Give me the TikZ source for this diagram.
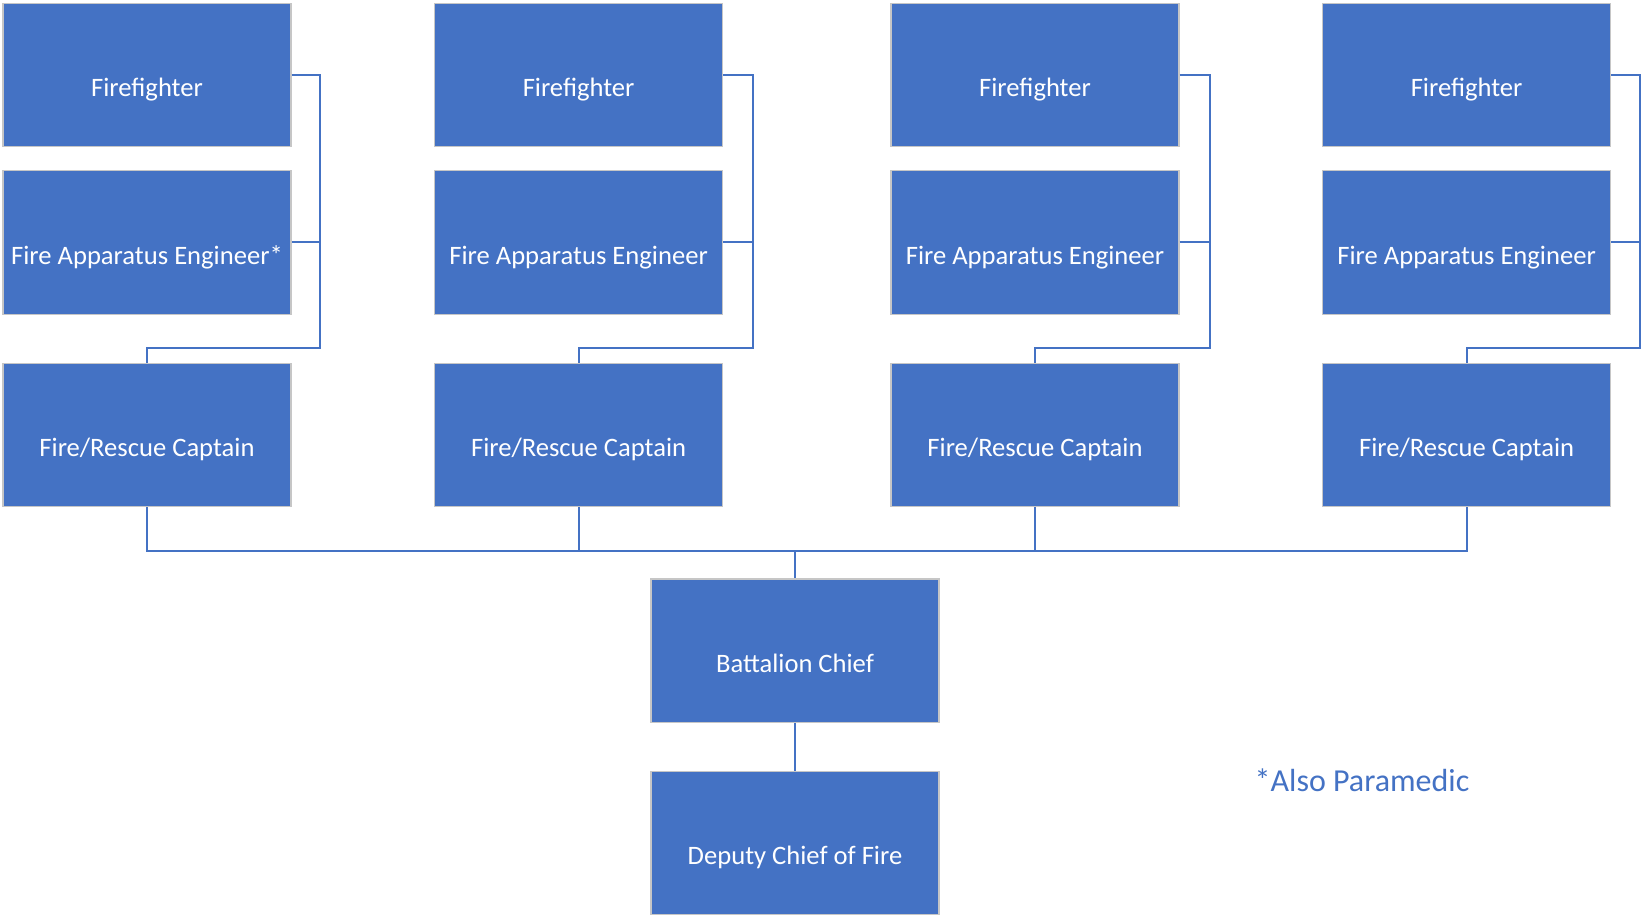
\documentclass[tikz,border=0pt]{standalone}
\usepackage{fontspec}
\setmainfont{Carlito}
\usepackage{tikz}
\definecolor{officeblue}{HTML}{4472C4}
\tikzset{rank/.style={rectangle, fill=officeblue, draw=gray!45, line width=0.6pt,
    minimum width=144pt, minimum height=71.75pt, inner sep=0pt,
    text height=29.6pt, text depth=8pt,
    text=white, font=\fontsize{13.3}{15}\selectfont},
  link/.style={draw=officeblue, line width=1pt}}

\begin{document}
\begin{tikzpicture}[x=0.5pt, y=-0.5pt]
        \useasboundingbox (0,0) rectangle (1642,917);

        \node[rank] (ff1) at (147, 74.9) {Firefighter};
        \node[rank] (ff2) at (578.6, 74.9) {Firefighter};
        \node[rank] (ff3) at (1035, 74.9) {Firefighter};
        \node[rank] (ff4) at (1466.6, 74.9) {Firefighter};

        \node[rank] (fae1) at (147, 242.4) {Fire Apparatus Engineer*};
        \node[rank] (fae2) at (578.6, 242.4) {Fire Apparatus Engineer};
        \node[rank] (fae3) at (1035, 242.4) {Fire Apparatus Engineer};
        \node[rank] (fae4) at (1466.6, 242.4) {Fire Apparatus Engineer};

        \node[rank] (cap1) at (147, 435) {Fire/Rescue Captain};
        \node[rank] (cap2) at (578.6, 435) {Fire/Rescue Captain};
        \node[rank] (cap3) at (1035, 435) {Fire/Rescue Captain};
        \node[rank] (cap4) at (1466.6, 435) {Fire/Rescue Captain};

        \node[rank] (bc) at (795, 650.8) {Battalion Chief};
        \node[rank] (dc) at (795, 843) {Deputy Chief of Fire};

        \node[text=officeblue, font=\fontsize{16}{19}\selectfont] (note) at (1362, 780) {*Also Paramedic};

        \coordinate (j1) at (320.4, 347.7);
        \coordinate (j2) at (753, 347.7);
        \coordinate (j3) at (1209.5, 347.7);
        \coordinate (j4) at (1640, 347.7);
        \coordinate (bus) at (795, 550.8);

        % crew links
        \draw[link] (ff1.east) -| (j1) -| (cap1.north)
                    (fae1.east) -- (fae1.east -| j1);
        \draw[link] (ff2.east) -| (j2) -| (cap2.north)
                    (fae2.east) -- (fae2.east -| j2);
        \draw[link] (ff3.east) -| (j3) -| (cap3.north)
                    (fae3.east) -- (fae3.east -| j3);
        \draw[link] (ff4.east) -| (j4) -| (cap4.north)
                    (fae4.east) -- (fae4.east -| j4);

        % captains to chief
        \draw[link] (cap1.south) |- (bus) -| (cap4.south)
                    (cap2.south) -- (cap2.south |- bus)
                    (cap3.south) -- (cap3.south |- bus)
                    (bus) -- (bc.north)
                    (bc.south) -- (dc.north);
    \end{tikzpicture}
\end{document}
